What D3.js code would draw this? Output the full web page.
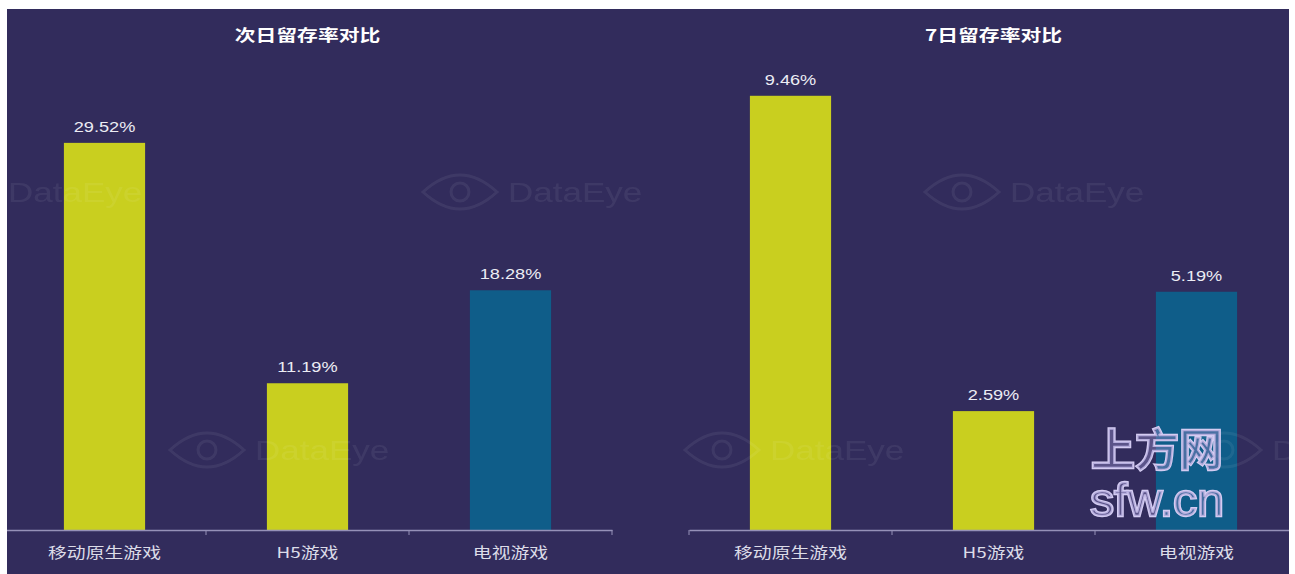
<!DOCTYPE html>
<html>
<head>
<meta charset="utf-8">
<script src="https://cdn.jsdelivr.net/npm/d3@7/dist/d3.min.js"></script>
<style>
  html, body { margin: 0; padding: 0; background: #fff; }
  svg { display: block; }
</style>
</head>
<body>
<svg></svg>
<script>
// chart data
const categories = ["移动原生游戏", "H5游戏", "电视游戏"];
const titles = ["次日留存率对比", "7日留存率对比"];
const day1Values = [29.52, 11.19, 18.28];
const day7Values = [9.46, 2.59, 5.19];
const yMax = [35, 10];
const barColors = ["#c9cf1f", "#c9cf1f", "#0f5d89"];

const W = 1295, H = 574;
const bg = { x: 7, y: 9, w: 1282, h: 565 };
const sx = 1.3; // the picture is stretched wide, text too

const svg = d3.select("svg")
    .attr("width", W)
    .attr("height", H)
    .style("font-family", "'Liberation Sans', 'Noto Sans CJK SC', sans-serif");

svg.append("clipPath").attr("id", "bgclip")
    .append("rect")
    .attr("x", bg.x).attr("y", bg.y).attr("width", bg.w).attr("height", bg.h);

svg.append("rect")
    .attr("x", bg.x).attr("y", bg.y)
    .attr("width", bg.w).attr("height", bg.h)
    .attr("fill", "#322c5c");

const root = svg.append("g").attr("clip-path", "url(#bgclip)");

const panels = [
    { title: titles[0], values: day1Values, max: yMax[0], range: [3, 612] },
    { title: titles[1], values: day7Values, max: yMax[1], range: [689, 1298] }
];

const baseY = 530, topY = 71;

panels.forEach(p => {
    const g = root.append("g");

    const x = d3.scaleBand()
        .domain(categories)
        .range(p.range)
        .padding(0);
    const y = d3.scaleLinear()
        .domain([0, p.max])
        .range([baseY, topY]);

    const barW = x.bandwidth() * 0.4;

    // title
    g.append("text")
        .attr("transform", `translate(${(p.range[0] + p.range[1]) / 2},41) scale(${sx},1)`)
        .attr("text-anchor", "middle")
        .attr("fill", "#ffffff")
        .attr("font-size", 16)
        .attr("font-weight", "bold")
        .style("font-family", "'Noto Sans CJK SC', sans-serif")
        .text(p.title);

    // bars
    g.selectAll(".bar")
        .data(p.values)
        .join("rect")
        .attr("class", "bar")
        .attr("x", (d, i) => x(categories[i]) + (x.bandwidth() - barW) / 2)
        .attr("y", d => y(d))
        .attr("width", barW)
        .attr("height", d => baseY - y(d))
        .attr("fill", (d, i) => barColors[i]);

    // value labels
    g.selectAll(".val")
        .data(p.values)
        .join("text")
        .attr("class", "val")
        .attr("transform", (d, i) => `translate(${x(categories[i]) + x.bandwidth() / 2},${y(d) - 11}) scale(${sx},1)`)
        .attr("text-anchor", "middle")
        .attr("fill", "#ececf4")
        .attr("font-size", 14)
        .text(d => d.toFixed(2) + "%");

    // x axis
    const axis = g.append("g")
        .attr("transform", `translate(0,${baseY})`)
        .call(d3.axisBottom(x).tickSize(0).tickPadding(18).tickSizeOuter(0));
    axis.select(".domain").attr("stroke", "#9591b8").attr("stroke-width", 1.5);
    axis.selectAll(".tick text")
        .attr("transform", `scale(${sx},1)`)
        .attr("fill", "#dcdce8")
        .attr("font-size", 14.5)
        .style("font-family", "'Noto Sans CJK SC', sans-serif");

    // boundary ticks
    const edges = categories.map(c => x(c)).concat([p.range[1]]);
    axis.selectAll(".edge")
        .data(edges)
        .join("line")
        .attr("class", "edge")
        .attr("x1", d => d).attr("x2", d => d)
        .attr("y1", 0).attr("y2", 5)
        .attr("stroke", "#9591b8");
});

// faint DataEye watermarks
const marks = [[-77, 192], [423, 192], [925, 192], [170, 450], [685, 450], [1187, 450]];
const wm = root.append("g")
    .attr("fill", "none")
    .attr("opacity", 0.065);
marks.forEach(([mx, my]) => {
    const m = wm.append("g").attr("transform", `translate(${mx},${my})`);
    m.append("path")
        .attr("d", "M0,0 Q37,-34 74,0 Q37,34 0,0 Z")
        .attr("stroke", "#ffffff").attr("stroke-width", 3);
    m.append("circle").attr("cx", 37).attr("cy", 0).attr("r", 9)
        .attr("stroke", "#ffffff").attr("stroke-width", 3);
    m.append("text")
        .attr("transform", `translate(85,10) scale(1.25,1)`)
        .attr("fill", "#ffffff")
        .attr("font-size", 28)
        .text("DataEye");
});

// sfw.cn overlay
const sfw = root.append("g")
    .attr("fill", "#8f86c0")
    .attr("fill-opacity", 0.45)
    .attr("stroke", "#d4ccf2")
    .attr("stroke-width", 2.4)
    .attr("paint-order", "stroke");
sfw.append("text")
    .attr("x", 1157).attr("y", 466)
    .attr("text-anchor", "middle")
    .attr("font-size", 44)
    .attr("font-weight", "bold")
    .style("font-family", "'Noto Sans CJK SC', sans-serif")
    .text("上方网");
sfw.append("text")
    .attr("transform", "translate(1157,516) scale(1.05,1)")
    .attr("text-anchor", "middle")
    .attr("font-size", 46)
    .style("font-family", "'Liberation Sans', sans-serif")
    .text("sfw.cn");
</script>
</body>
</html>
